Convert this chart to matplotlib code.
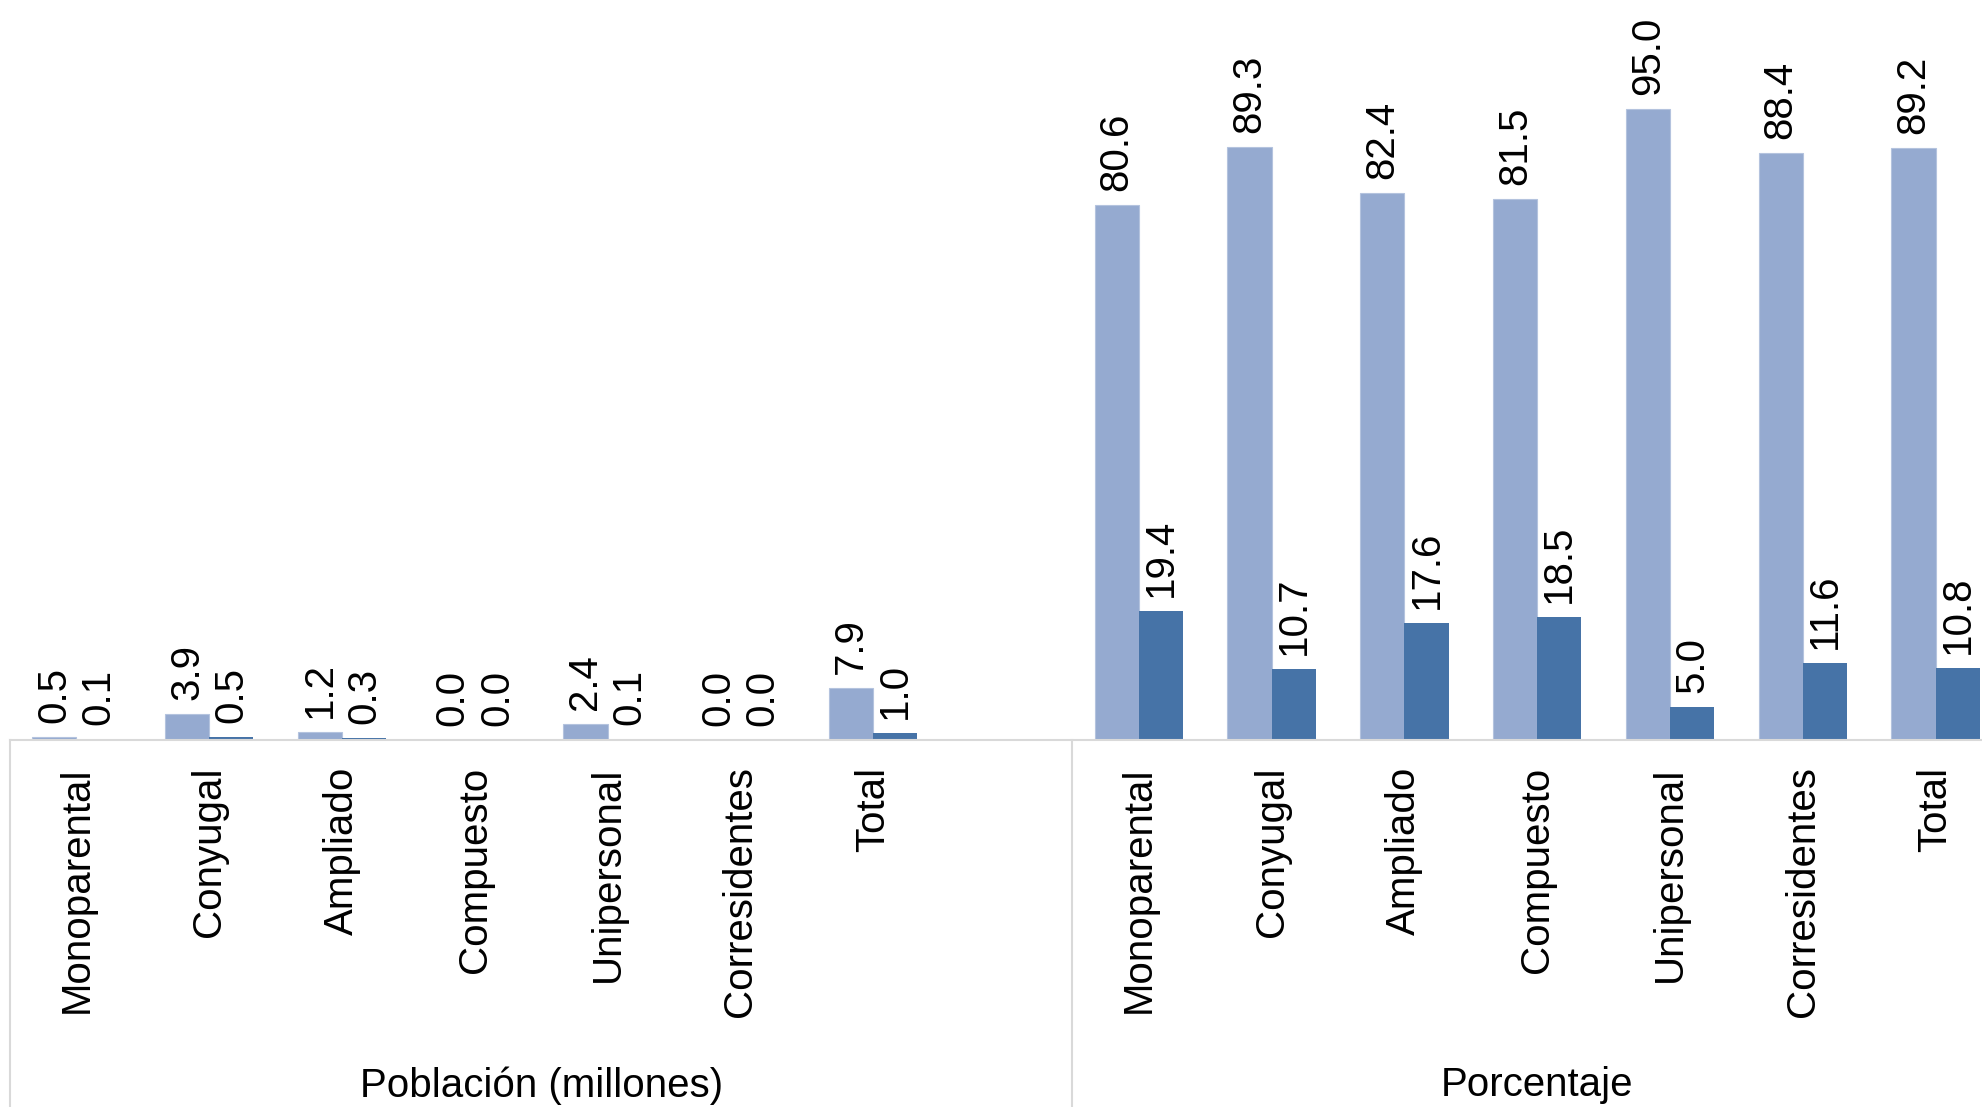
import numpy as np
import matplotlib.pyplot as plt
from matplotlib import transforms

plt.rcParams['font.family'] = ['Liberation Sans', 'DejaVu Sans']

# household types (same order in both panels)
tipos = ['Monoparental', 'Conyugal', 'Ampliado', 'Compuesto',
         'Unipersonal', 'Corresidentes', 'Total']

# population in millions: light / dark series
pob_claro = [0.5, 3.9, 1.2, 0.0, 2.4, 0.0, 7.9]
pob_oscuro = [0.1, 0.5, 0.3, 0.0, 0.1, 0.0, 1.0]

# percentages: light / dark series
pct_claro = [80.6, 89.3, 82.4, 81.5, 95.0, 88.4, 89.2]
pct_oscuro = [19.4, 10.7, 17.6, 18.5, 5.0, 11.6, 10.8]

grupos = ['Población (millones)', 'Porcentaje']

color_claro = '#95AAD0'
color_oscuro = '#4673A7'
gris = '#D9D9D9'

W, H = 1983, 1107
fig = plt.figure(figsize=(W / 100, H / 100), dpi=100)
ax = fig.add_axes([10 / W, (H - 740) / H, 1 - 10 / W, 664 / H])

# positions: 8 slots per group, last slot of each group left empty
x1 = np.arange(len(tipos))
x2 = x1 + 8
xs = np.concatenate([x1, x2])
claro = pob_claro + pct_claro
oscuro = pob_oscuro + pct_oscuro

bw = 1 / 3
ax.bar(xs - bw / 2, claro, bw, color=color_claro, edgecolor='#B4C3DE', linewidth=0.8)
ax.bar(xs + bw / 2, oscuro, bw, color=color_oscuro, linewidth=0)

for x, v in zip(xs - bw / 2, claro):
    ax.annotate(f'{v:.1f}', (x, v), xytext=(0, 10), textcoords='offset points',
                rotation=90, ha='center', va='bottom', fontsize=29)
for x, v in zip(xs + bw / 2, oscuro):
    ax.annotate(f'{v:.1f}', (x, v), xytext=(0, 10), textcoords='offset points',
                rotation=90, ha='center', va='bottom', fontsize=29)

ax.set_xlim(-0.5, 14.357)
ax.set_ylim(0, 100)
ax.set_xticks(xs)
ax.set_xticklabels(tipos + tipos, rotation=90, fontsize=29, va='top')
ax.tick_params(axis='x', length=0, pad=19)
ax.set_yticks([])

for s in ['top', 'right', 'left']:
    ax.spines[s].set_visible(False)
ax.spines['bottom'].set_color(gris)
ax.spines['bottom'].set_linewidth(1.5)

# group separators and group labels under the tick labels
trans = transforms.blended_transform_factory(ax.transData, ax.transAxes)
for xv in [-0.5, 7.5]:
    ax.plot([xv, xv], [0, -0.56], color=gris, lw=1.5, transform=trans, clip_on=False)

ax.text(3.5, -0.52, grupos[0], transform=trans, ha='center', va='center', fontsize=29)
ax.text(11.0, -0.52, grupos[1], transform=trans, ha='center', va='center', fontsize=29)

fig.savefig('out.png', dpi=100)
